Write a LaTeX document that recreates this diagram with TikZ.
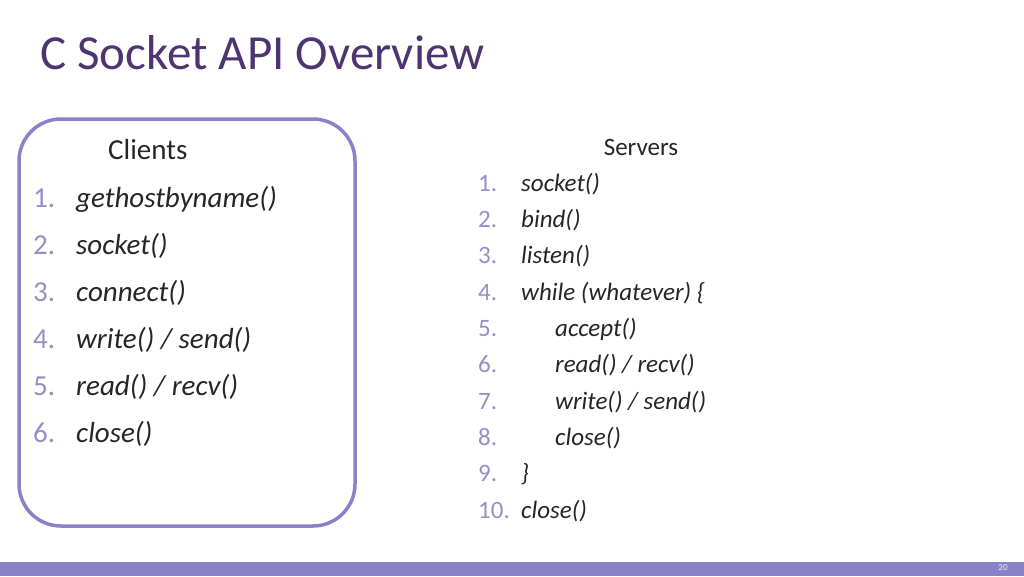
\documentclass[tikz,border=0pt]{standalone}
\usepackage{fontspec}
\setmainfont{Carlito}
\definecolor{titlepurple}{HTML}{4E3470}
\definecolor{boxpurple}{HTML}{8A82C8}
\definecolor{numpurple}{HTML}{9A8CC6}
\definecolor{bodytext}{HTML}{262626}
\tikzset{
  numlabel/.style={text=numpurple, anchor=base west, inner sep=0pt},
  itemlabel/.style={text=bodytext, anchor=base west, inner sep=0pt, font=\itshape},
}
\begin{document}
\begin{tikzpicture}[x=1pt, y=-1pt]
        \useasboundingbox (0,0) rectangle (1024,576);
        % Title
        \node [anchor=base west, inner sep=0pt, text=titlepurple, font=\fontsize{49}{52}\selectfont] (title) at (40,69) {C Socket API Overview};

        % Clients box
        \draw [boxpurple, line width=3.5pt, rounded corners=42pt] (19,119) rectangle (355,526);
        \node [anchor=base west, inner sep=0pt, text=bodytext, font=\fontsize{29}{32}\selectfont] (clients) at (108,159) {Clients};
        \foreach \i/\txt in {1/{gethostbyname()}, 2/{socket()}, 3/{connect()}, 4/{write() / send()}, 5/{read() / recv()}, 6/{close()}} {
            \node [numlabel, font=\fontsize{29}{32}\selectfont] (cnum\i) at (33,{160+47*\i}) {\i.};
            \node [itemlabel, font=\fontsize{29}{32}\selectfont\itshape] (citem\i) at (76,{160+47*\i}) {\txt};
        }

        % Servers list
        \node [anchor=base, inner sep=0pt, text=bodytext, font=\fontsize{25}{28}\selectfont] (servers) at (641,155) {Servers};
        \foreach \i/\ind/\txt in {1/0/{socket()}, 2/0/{bind()}, 3/0/{listen()}, 4/0/{while (whatever) \{}, 5/34/{accept()}, 6/34/{read() / recv()}, 7/34/{write() / send()}, 8/34/{close()}, 9/0/{\}}, 10/0/{close()}} {
            \node [numlabel, font=\fontsize{25}{28}\selectfont] (snum\i) at (478,{155+36.3*\i}) {\i.};
            \node [itemlabel, font=\fontsize{25}{28}\selectfont\itshape] (sitem\i) at ({521+\ind},{155+36.3*\i}) {\txt};
        }

        % Footer bar
        \fill [boxpurple] (0,562) rectangle (1024,576);
        \node [inner sep=0pt, text=white!85!boxpurple, font=\fontsize{9}{10}\selectfont] (page) at (1003,568) {20};
\end{tikzpicture}
\end{document}
